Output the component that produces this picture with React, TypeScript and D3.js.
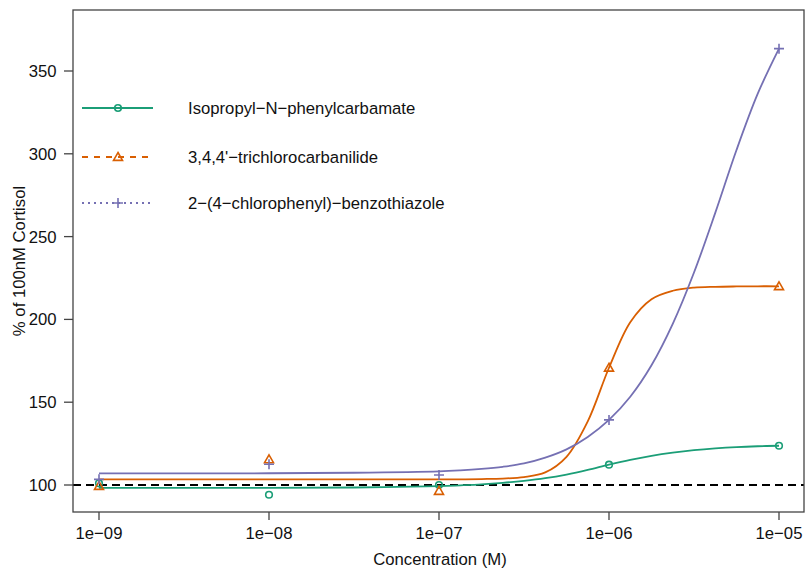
import React, { useEffect, useRef } from "react";
import * as d3 from "d3";

// measured concentrations (M)
const concentrations = [1e-9, 1e-8, 1e-7, 1e-6, 1e-5];
const xTickLabels = ["1e\u221209", "1e\u221208", "1e\u221207", "1e\u221206", "1e\u221205"];
const yTicks = [100, 150, 200, 250, 300, 350];

// observed values
const isopropylPoints = [101, 94.1, 100, 112.3, 123.7];
const trichloroPoints = [99.4, 115.5, 96.4, 170.8, 220];
const benzothiazolePoints = [103.4, 112.5, 106, 139.3, 363.5];

// fitted curves at these log10 concentrations
const curveLogConc = [
  -9, -8.5, -8, -7.5, -7, -6.875, -6.75, -6.625, -6.5, -6.375, -6.25, -6.125,
  -6, -5.875, -5.75, -5.625, -5.5, -5.375, -5.25, -5.125, -5,
];
const isopropylCurve = [
  98.3, 98.3, 98.3, 98.5, 99.3, 99.8, 100.4, 101.3, 102.5, 104.1, 106.3, 109.1,
  112.3, 115.2, 117.6, 119.5, 121, 122.1, 122.9, 123.4, 123.7,
];
const trichloroCurve = [
  103.4, 103.4, 103.4, 103.4, 103.4, 103.4, 103.6, 103.9, 104.8, 107.6, 117, 138.4,
  170.8, 198.3, 212.2, 217.3, 219.2, 219.7, 219.9, 220, 220,
];
const benzothiazoleCurve = [
  107, 107, 107.1, 107.4, 108.2, 108.8, 109.7, 111, 113, 116.5, 121.5, 129,
  139.3, 153.3, 172.3, 197.3, 228.3, 264.3, 302.3, 336.3, 363.5,
];

const seriesNames = [
  "Isopropyl\u2212N\u2212phenylcarbamate",
  "3,4,4'\u2212trichlorocarbanilide",
  "2\u2212(4\u2212chlorophenyl)\u2212benzothiazole",
];
const seriesColors = ["#1b9e77", "#d95f02", "#7570b3"];

const App = () => {
  const ref: any = useRef();
  const width = 806;
  const height = 574;

  useEffect(() => {
    const svg = d3.select(ref.current);
    svg.selectAll("*").remove();

    const font = "'Liberation Sans', Arial, sans-serif";
    const fontSize = 16.7;
    const box = { left: 73, right: 804, top: 10, bottom: 512 };

    const xScale = d3.scaleLog().domain([1e-9, 1e-5]).range([99, 779]);
    const yScale = d3.scaleLinear().domain([100, 350]).range([485, 71]);

    // reference line at 100%
    svg
      .append("line")
      .attr("x1", box.left)
      .attr("x2", box.right)
      .attr("y1", yScale(100))
      .attr("y2", yScale(100))
      .attr("stroke", "#000")
      .attr("stroke-width", 2)
      .attr("stroke-dasharray", "8,5");

    const line = d3
      .line<number>()
      .x((_d, i) => xScale(Math.pow(10, curveLogConc[i])))
      .y((d) => yScale(d))
      .curve(d3.curveCatmullRom.alpha(0.5));

    const curves = [isopropylCurve, trichloroCurve, benzothiazoleCurve];
    curves.forEach((c, i) => {
      svg
        .append("path")
        .attr("d", line(c) || "")
        .attr("fill", "none")
        .attr("stroke", seriesColors[i])
        .attr("stroke-width", 1.8);
    });

    // markers
    const drawMarker = (g: any, kind: number, x: number, y: number, color: string) => {
      if (kind === 0) {
        g.append("circle")
          .attr("cx", x)
          .attr("cy", y)
          .attr("r", 3.3)
          .attr("fill", "none")
          .attr("stroke", color)
          .attr("stroke-width", 1.6);
      } else if (kind === 1) {
        const s = 4.5;
        g.append("path")
          .attr("d", `M${x},${y - s}L${x + s},${y + s * 0.75}L${x - s},${y + s * 0.75}Z`)
          .attr("fill", "none")
          .attr("stroke", color)
          .attr("stroke-width", 1.6);
      } else {
        const s = 5;
        g.append("path")
          .attr("d", `M${x - s},${y}L${x + s},${y}M${x},${y - s}L${x},${y + s}`)
          .attr("fill", "none")
          .attr("stroke", color)
          .attr("stroke-width", 1.6);
      }
    };

    const points = [isopropylPoints, trichloroPoints, benzothiazolePoints];
    points.forEach((p, i) => {
      const g = svg.append("g");
      p.forEach((v, j) => drawMarker(g, i, xScale(concentrations[j]), yScale(v), seriesColors[i]));
    });

    // frame
    svg
      .append("rect")
      .attr("x", box.left)
      .attr("y", box.top)
      .attr("width", box.right - box.left)
      .attr("height", box.bottom - box.top)
      .attr("fill", "none")
      .attr("stroke", "#444")
      .attr("stroke-width", 1.3);

    // X axis ticks
    const xAxis = svg.append("g");
    concentrations.forEach((c, i) => {
      xAxis
        .append("line")
        .attr("x1", xScale(c))
        .attr("x2", xScale(c))
        .attr("y1", box.bottom)
        .attr("y2", box.bottom + 8)
        .attr("stroke", "#444")
        .attr("stroke-width", 1.3);
      xAxis
        .append("text")
        .attr("x", xScale(c))
        .attr("y", 538.5)
        .attr("text-anchor", "middle")
        .attr("font-family", font)
        .attr("font-size", fontSize)
        .attr("fill", "#111")
        .text(xTickLabels[i]);
    });

    // Y axis ticks
    const yAxis = svg.append("g");
    yTicks.forEach((t) => {
      yAxis
        .append("line")
        .attr("x1", box.left - 9)
        .attr("x2", box.left)
        .attr("y1", yScale(t))
        .attr("y2", yScale(t))
        .attr("stroke", "#444")
        .attr("stroke-width", 1.3);
      yAxis
        .append("text")
        .attr("x", 56.5)
        .attr("y", yScale(t) + 6)
        .attr("text-anchor", "end")
        .attr("font-family", font)
        .attr("font-size", fontSize)
        .attr("fill", "#111")
        .text(t);
    });

    // axis titles
    svg
      .append("text")
      .attr("x", 440)
      .attr("y", 565)
      .attr("text-anchor", "middle")
      .attr("font-family", font)
      .attr("font-size", fontSize)
      .attr("fill", "#111")
      .text("Concentration (M)");

    svg
      .append("text")
      .attr("transform", "translate(25,261) rotate(-90)")
      .attr("text-anchor", "middle")
      .attr("font-family", font)
      .attr("font-size", fontSize)
      .attr("fill", "#111")
      .text("% of 100nM Cortisol");

    // legend
    const legendY = [108, 157, 203];
    const dashes = [null, "6,6", "2,4"];
    seriesNames.forEach((name, i) => {
      const lg = svg.append("g");
      lg.append("line")
        .attr("x1", 82)
        .attr("x2", 153)
        .attr("y1", legendY[i])
        .attr("y2", legendY[i])
        .attr("stroke", seriesColors[i])
        .attr("stroke-width", 1.8)
        .attr("stroke-dasharray", dashes[i]);
      drawMarker(lg, i, 118, legendY[i], seriesColors[i]);
      lg.append("text")
        .attr("x", 188)
        .attr("y", legendY[i] + 6)
        .attr("font-family", font)
        .attr("font-size", fontSize)
        .attr("fill", "#111")
        .text(name);
    });
  }, []);

  return (
    <svg
      ref={ref}
      width={width}
      height={height}
      style={{ position: "absolute", left: 0, top: 0, background: "#fff" }}
    ></svg>
  );
};

export default App;
